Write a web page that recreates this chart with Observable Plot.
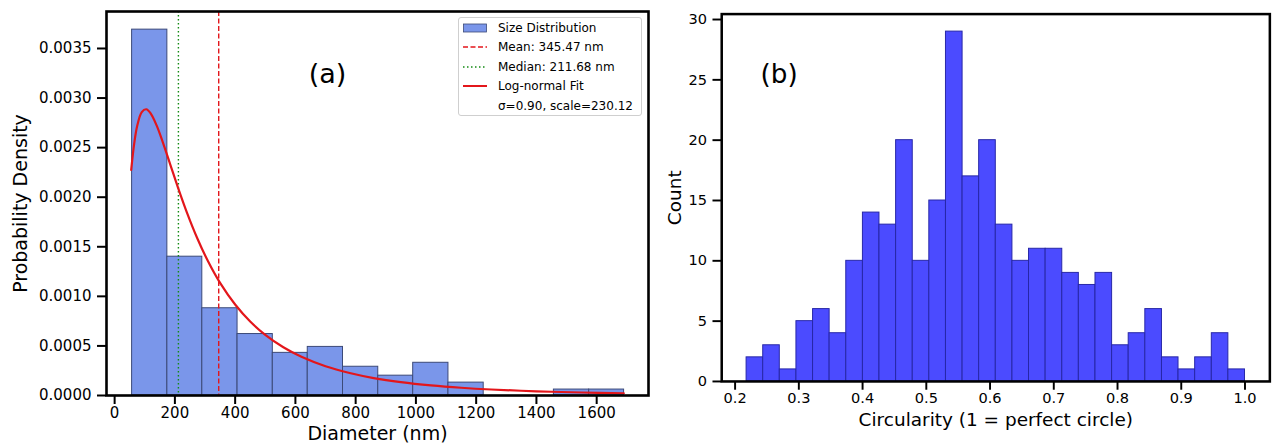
<!DOCTYPE html>
<html>
<head>
<meta charset="utf-8">
<script src="https://cdn.jsdelivr.net/npm/d3@7"></script>
<script src="https://cdn.jsdelivr.net/npm/@observablehq/plot@0.6"></script>
<style>
  html, body { margin: 0; padding: 0; background: #fff; overflow: hidden; }
  #wrap { position: relative; width: 1282px; height: 446px; overflow: hidden; font-family: "DejaVu Sans", sans-serif; }
  #pa { position: absolute; left: 0; top: 0; }
  #pb { position: absolute; left: 660px; top: 0; }
  #legend { position: absolute; left: 458px; top: 17px; width: 184px; height: 99px; box-sizing: border-box;
            border: 1px solid #cfcfcf; border-radius: 3px; background: rgba(255,255,255,0.85);
            font-family: "DejaVu Sans", sans-serif; font-size: 12px; color: #000; }
  .lrow { position: absolute; left: 0; height: 16px; display: flex; align-items: center; }
  .lrow svg { position: absolute; left: 4px; top: 2px; }
  .lrow span { position: absolute; left: 39px; white-space: nowrap; top: 0; line-height: 16px; }
</style>
</head>
<body>
<div id="wrap">
  <div id="pa"></div>
  <div id="pb"></div>
  <div id="legend"></div>
</div>
<script>
// ---------- Panel (a): diameter distribution ----------
const diameterBinEdges = [58, 175, 291, 408, 525, 641, 758, 875, 991, 1108, 1225, 1341, 1458, 1575, 1691];
const diameterDensity  = [0.00369, 0.00140, 0.00088, 0.00062, 0.00043, 0.00049, 0.00029, 0.00020, 0.00033, 0.00013, 0, 0, 0.00006, 0.00006];
const meanDiameter = 345.47;
const medianDiameter = 211.68;
const fitSigma = 0.90;
const fitScale = 230.12;
const fitX = [55, 65, 75, 90, 105, 120, 140, 160, 185, 210, 240, 275, 310, 350, 400, 450, 500, 560, 620, 700, 780, 860, 950, 1050, 1150, 1250, 1400, 1550, 1690];
const fitY = [0.002275, 0.002542, 0.002720, 0.002858, 0.002887, 0.002843, 0.002719, 0.002553, 0.002327, 0.002100, 0.001845, 0.001581, 0.001354, 0.001136, 0.000918, 0.000746, 0.000611, 0.000486, 0.000390, 0.000295, 0.000227, 0.000176, 0.000135, 0.000102, 0.0000780, 0.0000605, 0.0000423, 0.0000303, 0.0000226];
const xTicksA = [0, 200, 400, 600, 800, 1000, 1200, 1400, 1600];
const yTicksA = [0, 0.0005, 0.0010, 0.0015, 0.0020, 0.0025, 0.0030, 0.0035];

// ---------- Panel (b): circularity histogram ----------
const circBinEdges = [0.218, 0.2441, 0.2701, 0.2962, 0.3223, 0.3483, 0.3744, 0.4005, 0.4265, 0.4526, 0.4787, 0.5047, 0.5308, 0.5569, 0.5829, 0.6090, 0.6351, 0.6611, 0.6872, 0.7133, 0.7393, 0.7654, 0.7915, 0.8175, 0.8436, 0.8697, 0.8957, 0.9218, 0.9479, 0.9739, 1.0];
const circCounts = [2, 3, 1, 5, 6, 4, 10, 14, 13, 20, 10, 15, 29, 17, 20, 13, 10, 11, 11, 9, 8, 9, 3, 4, 6, 2, 1, 2, 4, 1];
const xTicksB = [0.2, 0.3, 0.4, 0.5, 0.6, 0.7, 0.8, 0.9, 1.0];
const yTicksB = [0, 5, 10, 15, 20, 25, 30];

const barsA = diameterDensity.map((v, i) => ({x1: diameterBinEdges[i], x2: diameterBinEdges[i + 1], y: v})).filter(d => d.y > 0);
const fitRows = fitX.map((x, i) => ({x, y: fitY[i]}));
const barsB = circCounts.map((c, i) => ({x1: circBinEdges[i], x2: circBinEdges[i + 1], y: c}));

const colA = "#7a96ea", edgeA = "#3c4a78";
const colB = "#4b4bff", edgeB = "#2626a6";
const red = "#e3161b", green = "#138a13";
const baseStyle = {fontFamily: "DejaVu Sans, sans-serif", fontSize: "15px", color: "black", background: "transparent", overflow: "visible"};

const plotA = Plot.plot({
  width: 660, height: 446,
  marginLeft: 106, marginRight: 12, marginTop: 11, marginBottom: 51,
  style: baseStyle,
  x: {domain: [-27, 1772], label: null},
  y: {domain: [0, 0.003873], label: null},
  marks: [
    Plot.rectY(barsA, {x1: "x1", x2: "x2", y: "y", fill: colA, stroke: edgeA, strokeWidth: 1, inset: 0}),
    Plot.ruleX([medianDiameter], {stroke: green, strokeWidth: 1.4, strokeDasharray: "1.5,2.5"}),
    Plot.ruleX([meanDiameter], {stroke: red, strokeWidth: 1.4, strokeDasharray: "5,2.5"}),
    Plot.line(fitRows, {x: "x", y: "y", stroke: red, strokeWidth: 2.2, curve: "catmull-rom"}),
    Plot.frame({stroke: "black", strokeWidth: 2.6}),
    Plot.axisX({ticks: xTicksA, tickSize: 9, tickPadding: 3, strokeWidth: 2, fontSize: 15, label: null, tickFormat: d => String(d)}),
    Plot.axisY({ticks: yTicksA, tickSize: 9, tickPadding: 6, strokeWidth: 2, fontSize: 15, label: null, tickFormat: d3.format(".4f")}),
    Plot.text(["(a)"], {text: d => d, frameAnchor: "top-left", dx: 221, dy: 52, fontSize: 27, textAnchor: "middle"}),
    Plot.text(["Probability Density"], {text: d => d, frameAnchor: "left", dx: -86, rotate: -90, fontSize: 19, textAnchor: "middle"}),
    Plot.text(["Diameter (nm)"], {text: d => d, frameAnchor: "bottom", dy: 44, fontSize: 19, textAnchor: "middle"})
  ]
});
document.getElementById("pa").appendChild(plotA);

const plotB = Plot.plot({
  width: 640, height: 446,
  marginLeft: 63, marginRight: 13, marginTop: 14, marginBottom: 54,
  style: baseStyle,
  x: {domain: [0.179, 1.039], label: null},
  y: {domain: [0, 30.45], label: null},
  marks: [
    Plot.rectY(barsB, {x1: "x1", x2: "x2", y: "y", fill: colB, stroke: edgeB, strokeWidth: 1, inset: 0}),
    Plot.frame({stroke: "black", strokeWidth: 2.6}),
    Plot.axisX({ticks: xTicksB, tickSize: 9, tickPadding: 3, strokeWidth: 2, fontSize: 15, label: null, tickFormat: d3.format(".1f")}),
    Plot.axisY({ticks: yTicksB, tickSize: 9, tickPadding: 6, strokeWidth: 2, fontSize: 15, label: null, tickFormat: d => String(d)}),
    Plot.text(["(b)"], {text: d => d, frameAnchor: "top-left", dx: 59, dy: 52, fontSize: 27, textAnchor: "middle"}),
    Plot.text(["Count"], {text: d => d, frameAnchor: "left", dx: -48, rotate: -90, fontSize: 19, textAnchor: "middle"}),
    Plot.text(["Circularity (1 = perfect circle)"], {text: d => d, frameAnchor: "bottom", dy: 46, fontSize: 19, textAnchor: "middle"})
  ]
});
document.getElementById("pb").appendChild(plotB);

// ---------- Legend ----------
const legendItems = [
  {label: "Size Distribution", kind: "patch"},
  {label: `Mean: ${meanDiameter.toFixed(2)} nm`, kind: "dash"},
  {label: `Median: ${medianDiameter.toFixed(2)} nm`, kind: "dot"},
  {label: "Log-normal Fit", kind: "line"},
  {label: `σ=${fitSigma.toFixed(2)}, scale=${fitScale.toFixed(2)}`, kind: "none"}
];
const legend = document.getElementById("legend");
legendItems.forEach((it, i) => {
  const row = document.createElement("div");
  row.className = "lrow";
  row.style.top = (1.5 + i * 19.6) + "px";
  let handle = "";
  if (it.kind === "patch") handle = `<rect x="0.5" y="2" width="23" height="8" fill="${colA}" stroke="${edgeA}" stroke-width="0.8"/>`;
  if (it.kind === "dash") handle = `<line x1="0" x2="24" y1="6" y2="6" stroke="${red}" stroke-width="1.4" stroke-dasharray="5,2.5"/>`;
  if (it.kind === "dot") handle = `<line x1="0" x2="24" y1="6" y2="6" stroke="${green}" stroke-width="1.4" stroke-dasharray="1.5,2.5"/>`;
  if (it.kind === "line") handle = `<line x1="0" x2="24" y1="6" y2="6" stroke="${red}" stroke-width="2"/>`;
  row.innerHTML = `<svg width="24" height="12">${handle}</svg><span>${it.label}</span>`;
  legend.appendChild(row);
});
</script>
</body>
</html>
